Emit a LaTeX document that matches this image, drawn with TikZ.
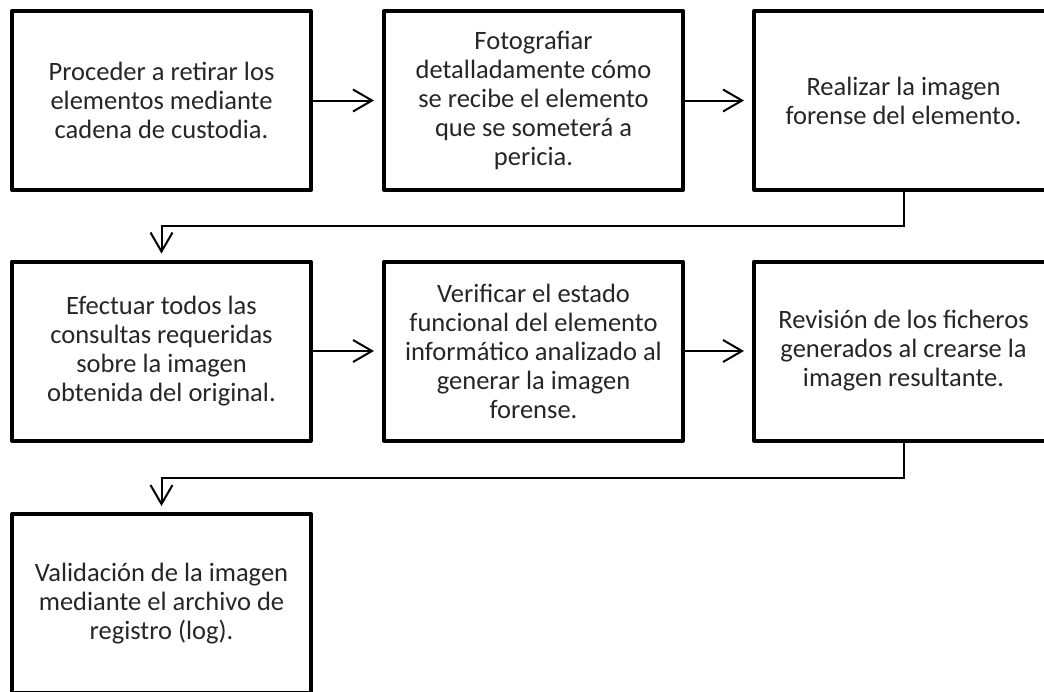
\documentclass[tikz,border=0pt]{standalone}
\usepackage{fontspec}
\setmainfont{Carlito}
\usetikzlibrary{arrows.meta}

\begin{document}
\begin{tikzpicture}[x=1pt, y=-1pt,
    paso/.style={draw, line width=4pt, line join=round, fill=white, text=black!85,
      align=center, minimum width=299pt, minimum height=179pt, inner sep=0pt,
      font=\fontsize{26.5}{29}\selectfont},
    flecha/.style={-{Straight Barb[length=19pt, width=22pt]}, line width=2pt}]
      \clip (0,0) rectangle (1044,691);
      \node[paso] (retirar) at (161.5, 100.5) {Proceder a retirar los\\elementos mediante\\cadena de custodia.};
      \node[paso] (fotografiar) at (533.5, 100.5) {Fotografiar\\detalladamente cómo\\se recibe el elemento\\que se someterá a\\pericia.};
      \node[paso] (imagen) at (903.5, 100.5) {Realizar la imagen\\forense del elemento.};
      \node[paso] (consultas) at (161.5, 351) {Efectuar todos las\\consultas requeridas\\sobre la imagen\\obtenida del original.};
      \node[paso] (verificar) at (533.5, 351) {Verificar el estado\\funcional del elemento\\informático analizado al\\generar la imagen\\forense.};
      \node[paso] (revision) at (903.5, 351) {Revisión de los ficheros\\generados al crearse la\\imagen resultante.};
      \node[paso] (validacion) at (161.5, 603.5) {Validación de la imagen\\mediante el archivo de\\registro (log).};
      \draw[flecha, shorten >=8pt] (retirar) -- (fotografiar);
      \draw[flecha, shorten >=8pt] (fotografiar) -- (imagen);
      \draw[flecha, shorten >=6pt] (imagen.south) -- ++(0,34) -| (consultas.north);
      \draw[flecha, shorten >=8pt] (consultas) -- (verificar);
      \draw[flecha, shorten >=8pt] (verificar) -- (revision);
      \draw[flecha, shorten >=6pt] (revision.south) -- ++(0,35) -| (validacion.north);
   \end{tikzpicture}
\end{document}
